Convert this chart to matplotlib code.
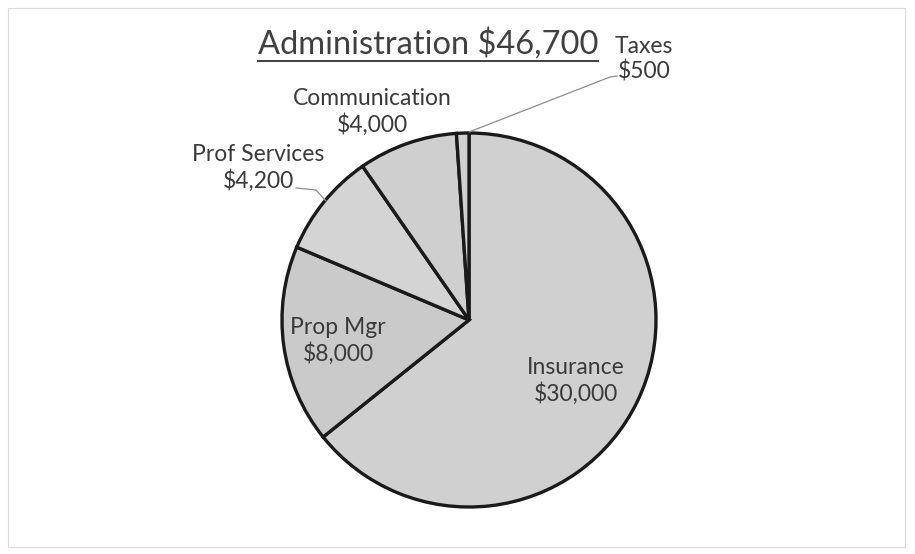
import matplotlib.pyplot as plt
from matplotlib.patches import Rectangle

plt.rcParams['font.family'] = ['Lato', 'DejaVu Sans']

# data
categories = ['Insurance', 'Prop Mgr', 'Prof Services', 'Communication', 'Taxes']
values = [30000, 8000, 4200, 4000, 500]
fills = ['#d0d0d0', '#cacaca', '#d4d4d4', '#cfcfcf', '#d0d0d0']
title_text = 'Administration $46,700'

W, H = 915, 554


def py(y):
    # pixel row (from top) -> axes y
    return H - y


fig = plt.figure(figsize=(W / 100, H / 100), dpi=100)
ax = fig.add_axes([0, 0, 1, 1])

# outer chart frame
ax.add_patch(Rectangle((8, py(547)), 897, 539, fill=False, ec='#d9d9d9', lw=0.8))

wedges, _ = ax.pie(values, colors=fills, startangle=90, counterclock=False,
                   center=(469, py(320)), radius=187, frame=True,
                   wedgeprops=dict(edgecolor='#1a1a1a', linewidth=2.4))
ax.set_xlim(0, W)
ax.set_ylim(0, H)
ax.set_aspect('equal')
ax.axis('off')

labels = [f"{c}\n${v:,}" for c, v in zip(categories, values)]
lab_pos = [(576, 381), (338, 341), (258, 168), (372, 112), (644, 59)]
txt_kw = dict(ha='center', va='center', fontsize=16.5, color='#3a3a3a',
              linespacing=1.22)
for lab, (x, y) in zip(labels, lab_pos):
    ax.text(x, py(y), lab, **txt_kw)

# leader lines
ax.plot([296, 316, 326], [py(188), py(190), py(201)], color='#8c8c8c', lw=0.9)
ax.plot([617, 610, 469], [py(76), py(77), py(132)], color='#8c8c8c', lw=0.9)

title = ax.text(428, py(44), title_text, ha='center', va='center',
                fontsize=23.5, color='#404040')
fig.canvas.draw()
bb = title.get_window_extent()
ax.plot([bb.x0, bb.x1], [bb.y0 - 1, bb.y0 - 1], color='#404040', lw=1.4)

fig.savefig('out.png', dpi=100, facecolor='white')
